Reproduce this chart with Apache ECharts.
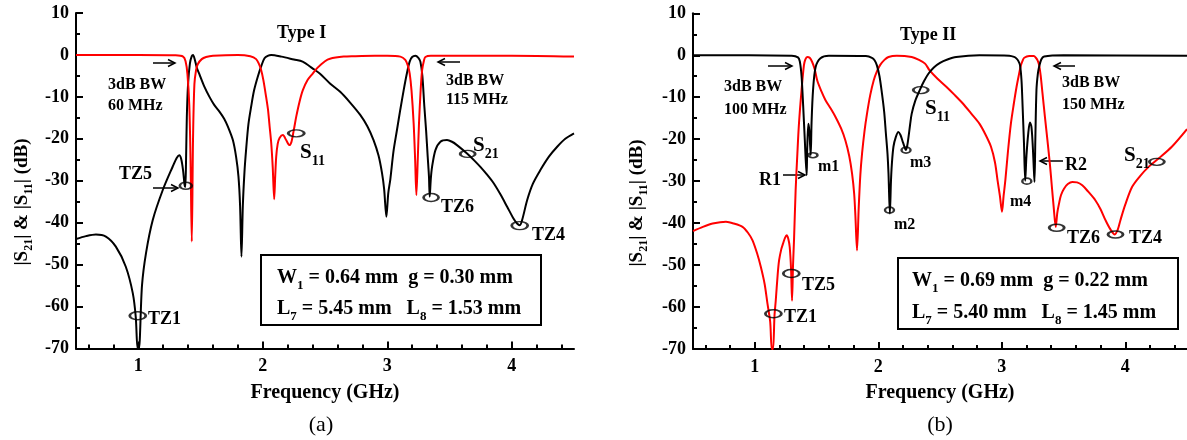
<!DOCTYPE html>
<html><head><meta charset="utf-8">
<script src="https://cdn.jsdelivr.net/npm/echarts/dist/echarts.min.js"></script>
<style>html,body{margin:0;padding:0;background:#fff}#c{width:1187px;height:440px}</style>
</head><body><div id="c"></div><script>
// ---------- data: panel (a) Type I ----------
const a_s21_f  = [0.5,0.58,0.66,0.74,0.82,0.9,0.956,0.98,0.995,1.005,1.03,1.062,1.116,1.197,1.277,1.31,1.33,1.345,1.36,1.372,1.378,1.384,1.39,1.4,1.415,1.43,1.44,1.455,1.47,1.491,1.53,1.572,1.61,1.652,1.69,1.72,1.76,1.786,1.805,1.818,1.829,1.84,1.853,1.866,1.885,1.907,1.93,1.96,1.99,2.014,2.04,2.068,2.15,2.25,2.32,2.4,2.46,2.54,2.622,2.7,2.783,2.84,2.89,2.93,2.958,2.975,2.993,3.008,3.025,3.05,3.078,3.105,3.132,3.155,3.18,3.2,3.226,3.25,3.266,3.282,3.298,3.312,3.325,3.335,3.341,3.35,3.36,3.387,3.427,3.48,3.52,3.56,3.641,3.7,3.748,3.8,3.855,3.91,3.963,4.01,4.043,4.065,4.085,4.124,4.17,4.231,4.3,4.365,4.43,4.5];
const a_s21_db = [-43.9,-43.2,-42.8,-43.3,-45.7,-50.5,-56.8,-62.5,-70,-70,-55,-47.3,-39.4,-32.2,-26.6,-24.5,-23.9,-24.8,-27.5,-31,-31.5,-25,-15,-7,-2,-0.3,0,-1.2,-3,-4.6,-7.5,-10,-11.9,-13.5,-15.2,-17.1,-20.3,-24.3,-29,-36,-48.1,-36,-28,-22.7,-16.5,-12.3,-8.5,-5.2,-2.5,-0.8,-0.2,0,-0.4,-1.1,-1.6,-3.2,-4.5,-6.8,-8.8,-11.3,-14.3,-17,-20.3,-24,-28.2,-32,-38.6,-33,-29.6,-23,-17.9,-13,-8.4,-4.8,-1.6,-0.5,-0.2,-0.7,-1.6,-5,-12.3,-18,-24.3,-29,-33.8,-29.5,-26.7,-22.7,-20.7,-20.3,-20.7,-21.5,-23.5,-25.2,-26.7,-28.5,-30.6,-33.3,-36.2,-38.8,-40.2,-40.6,-39.2,-34.6,-30.7,-27.4,-24.2,-21.9,-20,-18.7];
const a_s11_f  = [0.5,1.0,1.3,1.36,1.38,1.395,1.41,1.42,1.43,1.44,1.451,1.465,1.478,1.51,1.545,1.6,1.8,1.9,1.947,1.97,1.987,2.005,2.027,2.042,2.055,2.068,2.08,2.092,2.1,2.108,2.12,2.135,2.162,2.188,2.215,2.23,2.242,2.255,2.269,2.295,2.322,2.36,2.4,2.435,2.5,2.54,2.65,2.73,2.9,3.0,3.105,3.145,3.165,3.18,3.195,3.212,3.224,3.234,3.245,3.255,3.268,3.28,3.295,3.306,3.35,4.0,4.5];
const a_s11_db = [0,0,-0.1,-0.4,-1.5,-4.5,-12,-25,-44.5,-20,-7,-3.5,-2.2,-1,-0.5,-0.2,0,-0.3,-1,-2.2,-3.6,-6,-10,-13,-17,-21,-26.7,-34.4,-29,-24.3,-21.2,-19.8,-19.1,-20.3,-21.5,-20.8,-19.1,-17,-14.7,-11.2,-8.4,-6,-4.5,-3.2,-1.5,-0.9,-0.4,-0.3,-0.2,-0.2,-0.4,-1.2,-2.5,-4.4,-8.5,-16.3,-25,-33.4,-25,-16.3,-8.5,-3.6,-1.3,-0.5,-0.2,-0.2,-0.4];
// marker ellipses (a): TZ1, TZ5, S11, TZ6, S21, TZ4
const a_mark_f  = [0.996,1.382,2.269,3.352,3.646,4.064];
const a_mark_db = [-62.2,-31.2,-18.7,-34.0,-23.6,-40.7];

// ---------- data: panel (b) Type II ----------
const b_s11_f  = [0.5,1.3,1.35,1.365,1.379,1.392,1.405,1.42,1.425,1.434,1.442,1.453,1.46,1.472,1.493,1.532,1.6,1.9,1.949,1.97,1.989,2.01,2.03,2.048,2.062,2.075,2.083,2.094,2.103,2.11,2.123,2.142,2.163,2.18,2.195,2.212,2.223,2.235,2.245,2.258,2.271,2.3,2.338,2.37,2.406,2.45,2.5,2.56,2.631,2.819,3.061,3.1,3.12,3.135,3.148,3.16,3.169,3.18,3.19,3.2,3.215,3.228,3.24,3.25,3.258,3.265,3.272,3.281,3.292,3.303,3.32,3.343,3.5,4.5];
const b_s11_db = [0,-0.1,-0.5,-1.5,-5,-12,-20,-28.6,-22,-16.3,-18,-23.8,-16,-8.3,-2.8,-0.7,-0.1,-0.2,-0.6,-1.2,-2.4,-5,-9.1,-13.5,-18.7,-23.5,-28.2,-37.7,-30,-26,-21.8,-19.5,-18.3,-19,-20.3,-21.8,-22.6,-21.5,-19.5,-16.5,-13.9,-10.8,-8.2,-6.2,-4.4,-2.9,-1.8,-1,-0.4,0,-0.1,-0.4,-0.8,-1.4,-2.4,-6,-12.3,-21,-29.9,-24,-18.5,-16,-17,-21,-26,-30.2,-20,-8.3,-4.5,-2.7,-1,-0.3,0,-0.1];
const b_s21_f  = [0.5,0.58,0.659,0.72,0.767,0.83,0.901,0.945,0.982,1.02,1.049,1.08,1.103,1.125,1.138,1.148,1.16,1.17,1.185,1.197,1.215,1.229,1.245,1.259,1.272,1.283,1.294,1.302,1.31,1.318,1.331,1.345,1.358,1.379,1.398,1.41,1.425,1.445,1.465,1.485,1.506,1.54,1.573,1.615,1.654,1.7,1.734,1.765,1.788,1.805,1.815,1.828,1.842,1.855,1.869,1.889,1.909,1.935,1.963,1.99,2.016,2.05,2.083,2.15,2.271,2.33,2.379,2.416,2.48,2.551,2.62,2.685,2.75,2.819,2.87,2.913,2.945,2.966,2.985,3.002,3.015,3.029,3.05,3.074,3.098,3.12,3.14,3.155,3.17,3.182,3.222,3.26,3.276,3.29,3.303,3.315,3.33,3.35,3.37,3.39,3.406,3.42,3.437,3.45,3.464,3.48,3.504,3.535,3.572,3.61,3.652,3.7,3.759,3.8,3.84,3.88,3.915,3.94,3.961,4.0,4.055,4.12,4.189,4.27,4.377,4.5];
const b_s21_db = [-41.9,-40.9,-40.1,-39.8,-39.7,-40.1,-40.9,-42.3,-44.1,-47.3,-50.4,-54.5,-59.2,-63.5,-70,-70,-62,-58.5,-52.5,-48.9,-46.2,-44.9,-43.5,-42.9,-43.8,-45.7,-51,-58.5,-50,-44,-32.2,-23.5,-16.3,-8.3,-2.4,-1,-0.4,-0.6,-1.6,-3.3,-6,-8.6,-10.7,-12.7,-14.7,-17.5,-20.3,-24,-28.2,-33,-38.3,-46.5,-36.2,-28.5,-23.4,-18,-13.9,-9.5,-6,-3.8,-2.3,-1.1,-0.4,-0.1,-0.4,-1.1,-2,-3.6,-5.6,-7.5,-9.5,-11.5,-13.8,-16.3,-19,-21.8,-25.5,-29.8,-33.5,-37.3,-33.5,-29.8,-23,-16.3,-11.5,-7.5,-4.5,-2.4,-1.2,-0.6,-0.2,-0.2,-0.6,-1.2,-2.4,-4.8,-9.1,-14.8,-20.3,-26,-31.4,-36,-40.9,-37.5,-35.3,-33.3,-31.8,-30.7,-30.2,-30.3,-31,-32.5,-34.6,-36.7,-39.3,-41.5,-42.7,-41.5,-39.3,-35.6,-31.4,-28.8,-26.6,-24.6,-21.8,-17.6];
// marker ellipses (b): TZ1, TZ5, m1, m2, m3, S11, m4, TZ6, TZ4, S21
const b_mark_f  = [1.151,1.296,1.471,2.091,2.225,2.344,3.203,3.445,3.921,4.256];
const b_mark_db = [-61.6,-52.0,-23.8,-36.9,-22.6,-8.3,-30.0,-41.1,-42.7,-25.4];

// ---------- ticks ----------
const xTickValues = [1,2,3,4];
const xMinorValues = [0.6,0.8,1.2,1.4,1.6,1.8,2.2,2.4,2.6,2.8,3.2,3.4,3.6,3.8,4.2,4.4];

// ---------- styling / layout (not data) ----------
const a_mark_size = [[16,8],[12,7],[16,7],[15,8],[15,7],[16,8]];
const b_mark_size = [[16,8],[16,8],[9,5],[9,6],[9,6],[15,7],[9,6],[15,7],[15,7],[15,7]];
const FONT = '"Liberation Serif","Times New Roman",serif';
const ELLIPSE = 'path://M0,5A10,5,0,1,1,20,5A10,5,0,1,1,0,5Z';

function zip(f, d){ return f.map((v,i)=>[v,d[i]]); }
function marks(f, d, s){ return f.map((v,i)=>({value:[v,d[i]], symbolSize:s[i]})); }

function xAxes(g){
  return [{
    gridIndex:g, type:'value', min:0.5, max:4.5,
    axisLine:{show:true, onZero:false, lineStyle:{color:'#000', width:2}},
    axisTick:{show:true, inside:true, length:7, customValues:xTickValues, lineStyle:{color:'#000', width:2}},
    axisLabel:{customValues:xTickValues, color:'#000', fontFamily:FONT, fontWeight:'bold', fontSize:18, margin:9},
    splitLine:{show:false},
    name:'Frequency (GHz)', nameLocation:'middle', nameGap:34,
    nameTextStyle:{color:'#000', fontFamily:FONT, fontWeight:'bold', fontSize:20}
  },{
    gridIndex:g, type:'value', min:0.5, max:4.5, position:'bottom',
    axisLine:{show:false, onZero:false},
    axisTick:{show:true, inside:true, length:4, customValues:xMinorValues, lineStyle:{color:'#000', width:2}},
    axisLabel:{show:false}, splitLine:{show:false}
  }];
}
function yAxis(g){
  return {
    gridIndex:g, type:'value', min:-70, max:10, interval:10,
    axisLine:{show:true, onZero:false, lineStyle:{color:'#000', width:2}},
    axisTick:{show:true, inside:true, length:7, lineStyle:{color:'#000', width:2}},
    minorTick:{show:true, splitNumber:2, length:4, lineStyle:{color:'#000', width:2}},
    axisLabel:{color:'#000', fontFamily:FONT, fontWeight:'bold', fontSize:18, margin:7},
    splitLine:{show:false}
  };
}
function line(xi, yi, data, color){
  return {type:'line', xAxisIndex:xi, yAxisIndex:yi, data:data, showSymbol:false, symbol:'none',
    smooth:0.3, lineStyle:{color:color, width:2}, itemStyle:{color:color}, clip:true, animation:false, silent:true};
}
function markSeries(xi, yi, data){
  return {type:'scatter', xAxisIndex:xi, yAxisIndex:yi, data:data, symbol:ELLIPSE,
    itemStyle:{color:'rgba(0,0,0,0)', borderColor:'#000', borderWidth:2}, z:5, silent:true, animation:false};
}

// text annotations
const subRich = {
  m:{fontFamily:FONT, fontWeight:'bold', fontSize:20, fill:'#000', color:'#000', lineHeight:24},
  s:{fontFamily:FONT, fontWeight:'bold', fontSize:13, fill:'#000', color:'#000', verticalAlign:'top', padding:[13,0,0,0], lineHeight:13}
};
const nameRich = {
  m:{fontFamily:FONT, fontWeight:'bold', fontSize:19, fill:'#000', color:'#000', lineHeight:23},
  s:{fontFamily:FONT, fontWeight:'bold', fontSize:12, fill:'#000', color:'#000', verticalAlign:'top', padding:[12,0,0,0], lineHeight:12}
};
const bigS = {
  m:{fontFamily:FONT, fontWeight:'bold', fontSize:21, fill:'#000', color:'#000', lineHeight:24},
  s:{fontFamily:FONT, fontWeight:'bold', fontSize:14, fill:'#000', color:'#000', verticalAlign:'top', padding:[13,0,0,0], lineHeight:14}
};
function T(text, x, y, size, weight){
  return {type:'text', x:x, y:y, z:10, style:{text:text, fill:'#000', fontFamily:FONT, fontWeight:weight||'bold', fontSize:size, align:'left', verticalAlign:'middle'}};
}
function TC(text, x, y, size, weight){
  return {type:'text', x:x, y:y, z:10, style:{text:text, fill:'#000', fontFamily:FONT, fontWeight:weight||'bold', fontSize:size, align:'center', verticalAlign:'middle'}};
}
function R(text, x, y, rich){
  return {type:'text', x:x, y:y, z:10, style:{text:text, rich:rich, fill:'#000', align:'left', verticalAlign:'middle'}};
}
function A(x1, y1, x2, y2){
  const d = x2 > x1 ? 1 : -1;
  return {type:'group', z:10, children:[
    {type:'line', shape:{x1:x1, y1:y1, x2:x2, y2:y2}, style:{stroke:'#000', lineWidth:1.5}},
    {type:'polyline', shape:{points:[[x2-7*d,y1-3.5],[x2,y2],[x2-7*d,y1+3.5]]}, style:{stroke:'#000', fill:null, lineWidth:1.5}}
  ]};
}
function BOX(x, y, w, h){
  return {type:'rect', z:9, shape:{x:x, y:y, width:w, height:h}, style:{stroke:'#000', lineWidth:2, fill:'#fff'}};
}
function YNAME(x, y){
  return {type:'text', x:x, y:y, rotation:Math.PI/2, z:10,
    style:{text:'{m||S}{s|21}{m|| & |S}{s|11}{m|| (dB)}', rich:nameRich, fill:'#000', align:'center', verticalAlign:'middle'}};
}

const graphics = [
  // panel (a)
  YNAME(22, 202),
  T('Type I', 277, 33, 18),
  A(153, 63, 175, 63),
  T('3dB BW', 108, 85, 16), T('60 MHz', 108, 106, 16),
  T('TZ5', 119, 174, 18), A(153, 188, 178, 188),
  T('TZ1', 148, 319, 18),
  R('{m|S}{s|11}', 300, 153, bigS),
  T('TZ6', 441, 207, 18),
  R('{m|S}{s|21}', 473, 146, bigS),
  T('TZ4', 532, 235, 18),
  A(460, 62, 438, 62),
  T('3dB BW', 446, 81, 16), T('115 MHz', 446, 100, 16),
  BOX(261, 255, 280, 70),
  R('{m|W}{s|1}{m| = 0.64 mm  g = 0.30 mm}', 277, 278, subRich),
  R('{m|L}{s|7}{m| = 5.45 mm   L}{s|8}{m| = 1.53 mm}', 277, 309, subRich),
  TC('(a)', 321, 425, 22, 'normal'),
  // panel (b)
  YNAME(637, 203),
  T('Type II', 900, 35, 18),
  A(768, 66, 792, 66),
  T('3dB BW', 724, 87, 16), T('100 MHz', 724, 110, 16),
  T('R1', 759, 180, 18), A(783, 175, 805, 175),
  T('m1', 818, 167, 16),
  T('m2', 894, 225, 16),
  T('m3', 910, 163, 16),
  R('{m|S}{s|11}', 925, 109, bigS),
  T('m4', 1010, 202, 16),
  A(1063, 161, 1040, 161), T('R2', 1065, 165, 18),
  A(1075, 66, 1054, 66),
  T('3dB BW', 1062, 83, 16), T('150 MHz', 1062, 105, 16),
  T('TZ6', 1067, 238, 18),
  T('TZ4', 1129, 238, 18),
  R('{m|S}{s|21}', 1124, 156, bigS),
  T('TZ5', 802, 285, 18),
  T('TZ1', 784, 317, 18),
  BOX(898, 258, 280, 71),
  R('{m|W}{s|1}{m| = 0.69 mm  g = 0.22 mm}', 912, 281, subRich),
  R('{m|L}{s|7}{m| = 5.40 mm   L}{s|8}{m| = 1.45 mm}', 912, 313, subRich),
  TC('(b)', 940, 425, 22, 'normal')
];

const chart = echarts.init(document.getElementById('c'), null, {renderer:'canvas'});
chart.setOption({
  animation:false,
  backgroundColor:'#fff',
  grid:[
    {left:76, right:613, top:13, bottom:91.5},
    {left:693, right:-1, top:13.3, bottom:91}
  ],
  xAxis: xAxes(0).concat(xAxes(1)),
  yAxis: [yAxis(0), yAxis(1)],
  series:[
    line(0, 0, zip(a_s21_f, a_s21_db), '#000'),
    line(0, 0, zip(a_s11_f, a_s11_db), '#ff0000'),
    markSeries(0, 0, marks(a_mark_f, a_mark_db, a_mark_size)),
    line(2, 1, zip(b_s21_f, b_s21_db), '#ff0000'),
    line(2, 1, zip(b_s11_f, b_s11_db), '#000'),
    markSeries(2, 1, marks(b_mark_f, b_mark_db, b_mark_size))
  ],
  graphic: graphics
});
</script></body></html>
